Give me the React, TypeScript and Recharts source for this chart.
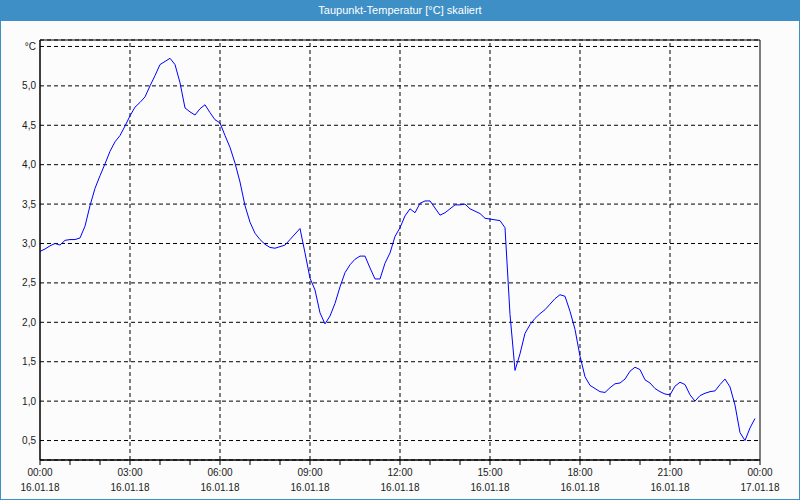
import React from 'react'
import {
  LineChart,
  Line,
  XAxis,
  YAxis,
  CartesianGrid,
  ReferenceLine,
  ReferenceArea,
} from 'recharts'

// Taupunkt in °C, 10-Minuten-Werte ab 16.01.18 00:00
const dewPoint = [
  2.90, 2.93, 2.97, 3.00, 2.98, 3.04, 3.05, 3.05, 3.07, 3.22, 3.48, 3.70,
  3.86, 4.01, 4.17, 4.29, 4.37, 4.49, 4.62, 4.73, 4.79, 4.86, 5.00, 5.13,
  5.27, 5.31, 5.35, 5.27, 5.04, 4.72, 4.67, 4.63, 4.71, 4.76, 4.66, 4.57,
  4.53, 4.37, 4.22, 4.02, 3.78, 3.48, 3.27, 3.13, 3.05, 2.99, 2.95, 2.94,
  2.96, 2.98, 3.05, 3.12, 3.19, 2.88, 2.56, 2.41, 2.12, 1.98, 2.08, 2.24,
  2.45, 2.63, 2.73, 2.80, 2.84, 2.84, 2.69, 2.55, 2.55, 2.75, 2.88, 3.09,
  3.20, 3.35, 3.44, 3.39, 3.51, 3.54, 3.54, 3.45, 3.36, 3.39, 3.44, 3.49,
  3.49, 3.50, 3.44, 3.41, 3.38, 3.32, 3.31, 3.30, 3.29, 3.20, 2.10, 1.39,
  1.60, 1.86, 1.97, 2.05, 2.11, 2.16, 2.23, 2.30, 2.35, 2.33, 2.14, 1.91,
  1.57, 1.31, 1.20, 1.16, 1.12, 1.11, 1.17, 1.22, 1.23, 1.28, 1.38, 1.43,
  1.40, 1.27, 1.23, 1.16, 1.12, 1.09, 1.08, 1.19, 1.24, 1.21, 1.08, 1.00,
  1.07, 1.10, 1.12, 1.13, 1.21, 1.28, 1.18, 0.95, 0.60, 0.50, 0.66, 0.78,
]
const stepMinutes = 10

const hourTicks = [
  0, 60, 120, 180, 240, 300, 360, 420, 480, 540, 600, 660, 720,
  780, 840, 900, 960, 1020, 1080, 1140, 1200, 1260, 1320, 1380, 1440,
]
const gridMinutes = [180, 360, 540, 720, 900, 1080, 1260]
const timeLabels = ['00:00', '03:00', '06:00', '09:00', '12:00', '15:00', '18:00', '21:00', '00:00']
const dateLabels = [
  '16.01.18', '16.01.18', '16.01.18', '16.01.18', '16.01.18',
  '16.01.18', '16.01.18', '16.01.18', '17.01.18',
]
const yTicks = [0.5, 1.0, 1.5, 2.0, 2.5, 3.0, 3.5, 4.0, 4.5, 5.0, 5.5]
const yDomain: [number, number] = [0.253, 5.582]

const data = dewPoint.map((v, i) => ({ min: i * stepMinutes, value: v }))

const font = '"Liberation Sans", Arial, sans-serif'
const textColor = '#1a1a1a'

function TimeTick(props: any) {
  const { x, y, payload } = props
  const m = payload.value as number
  if (m % 180 !== 0) return null
  const idx = m / 180
  return (
    <g>
      <text x={x} y={y + 9} textAnchor="middle" fontSize={10} fontFamily={font} fill={textColor}>
        {timeLabels[idx]}
      </text>
      <text x={x} y={y + 24} textAnchor="middle" fontSize={10} fontFamily={font} fill={textColor}>
        {dateLabels[idx]}
      </text>
    </g>
  )
}

export default function App() {
  return (
    <div
      style={{
        position: 'absolute',
        left: 0,
        top: 0,
        width: 800,
        height: 500,
        boxSizing: 'border-box',
        border: '1px solid #3d8fc6',
        background: '#fbfcfb',
        fontFamily: font,
      }}
    >
      <div
        style={{
          height: 20,
          background: '#3d8fc6',
          color: '#fff',
          fontSize: 11,
          lineHeight: '19px',
          textAlign: 'center',
        }}
      >
        Taupunkt-Temperatur [°C] skaliert
      </div>
      <div style={{ position: 'absolute', left: -1, top: -1 }}>
        <LineChart width={800} height={500} data={data} margin={{ top: 40, right: 40, bottom: 0, left: 0 }}>
          <CartesianGrid vertical={false} stroke="#000" strokeDasharray="4 3" />
          {gridMinutes.map((m) => (
            <ReferenceLine key={m} x={m} stroke="#000" strokeDasharray="4 3" />
          ))}
          <XAxis
            dataKey="min"
            type="number"
            domain={[0, 1440]}
            ticks={hourTicks}
            interval={0}
            height={40}
            tickSize={5}
            tickMargin={2}
            axisLine={{ stroke: '#000' }}
            tickLine={{ stroke: '#000' }}
            tick={<TimeTick />}
          />
          <YAxis
            type="number"
            domain={yDomain}
            ticks={yTicks}
            interval={0}
            width={40}
            tickSize={4}
            tickMargin={0}
            tickLine={false}
            axisLine={{ stroke: '#000' }}
            tick={{ fontSize: 10, fontFamily: font, fill: textColor }}
            tickFormatter={(v: number) => (v === 5.5 ? '°C' : v.toFixed(1).replace('.', ','))}
          />
          <ReferenceArea
            x1={0}
            x2={1440}
            y1={yDomain[0]}
            y2={yDomain[1]}
            stroke="#000"
            fill="none"
            fillOpacity={0}
            ifOverflow="visible"
          />
          <Line
            type="linear"
            dataKey="value"
            stroke="#0000ff"
            strokeWidth={1}
            dot={false}
            isAnimationActive={false}
          />
        </LineChart>
      </div>
    </div>
  )
}
